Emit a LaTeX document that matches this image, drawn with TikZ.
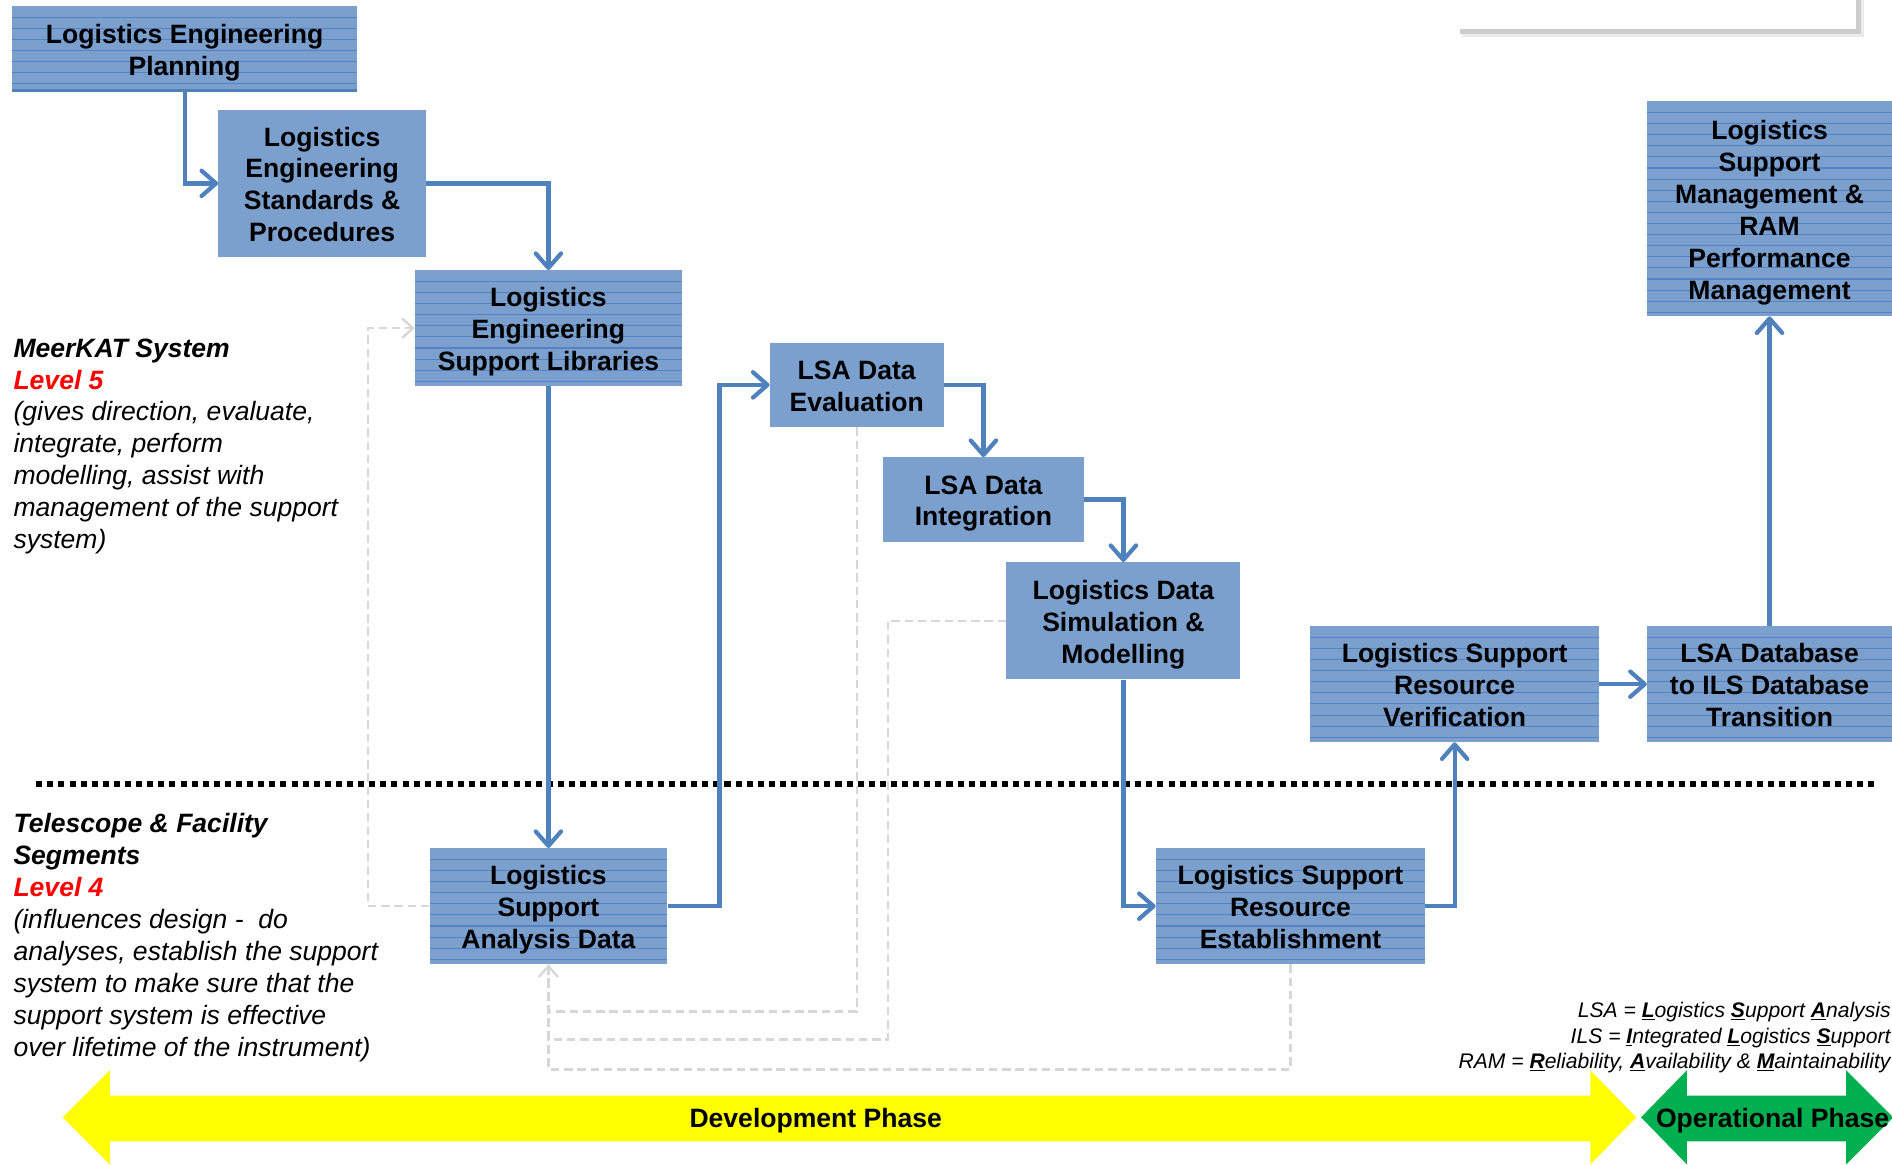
\documentclass[tikz,border=0pt]{standalone}
\usepackage{fontspec}
\setmainfont{Liberation Sans}
\usetikzlibrary{arrows.meta,calc}
\definecolor{boxfill}{RGB}{123,160,206}
\definecolor{stripecol}{RGB}{84,130,194}
\definecolor{flowblue}{RGB}{79,129,189}
\definecolor{fbgray}{RGB}{215,215,215}
\definecolor{phgreen}{RGB}{0,176,80}
\definecolor{phyellow}{RGB}{255,255,0}
\definecolor{lvred}{RGB}{255,0,0}
\newcommand\ulb[1]{\underline{\textbf{#1}}}
\newcommand\tstrut{\rule{0pt}{22pt}}
\tikzset{
  blk/.style={rectangle, fill=boxfill, inner sep=0pt, align=center,
    font=\fontsize{22}{26.5}\selectfont\bfseries,
    execute at end node={\rule[-4.5pt]{0pt}{0pt}}},
  striped/.style={path picture={
    \foreach \k in {1,...,24}{
      \draw[stripecol, line width=0.9pt]
        ([yshift=-\k*9.2pt]path picture bounding box.north west) --
        ([yshift=-\k*9.2pt]path picture bounding box.north east);}}},
  flow/.style={draw=flowblue, line width=3.5pt,
    -{Straight Barb[length=12pt,width=21pt,round]}},
  fb/.style={draw=fbgray, line width=2pt, dash pattern=on 7pt off 4pt,
    -{Straight Barb[length=9pt,width=16pt]}},
  fbn/.style={draw=fbgray, line width=2pt, dash pattern=on 7pt off 4pt},
  lefttext/.style={align=left, inner sep=0pt, anchor=west,
    font=\fontsize{22}{26.5}\selectfont\itshape},
  legend/.style={align=right, inner sep=0pt, anchor=east,
    font=\fontsize{17.5}{21.3}\selectfont\itshape},
  phase/.style={inner sep=0pt, font=\fontsize{22}{26}\selectfont\bfseries},
  dotline/.style={line width=5pt, dash pattern=on 5pt off 4.2pt, black},
}
\begin{document}
\begin{tikzpicture}[x=1pt,y=-1pt]
\useasboundingbox (0,0) rectangle (1568,965);

% top-right partially visible white box with shadow
\fill[black!8] (1212,-6) rectangle (1545,31);
\fill[black!20] (1210,-6) rectangle (1542,28);
\fill[white] (1205,-6) rectangle (1538,24);

% dotted separator
\coordinate (dl) at (30,650);
\coordinate (dr) at (1555,650);
\draw[dotline] (dl) -- (dr);

% boxes
\node[blk,striped,minimum width=286pt,minimum height=71pt] (plan) at (153,40.5) {\tstrut Logistics Engineering\\Planning};
\draw[flowblue, line width=2.5pt] ([yshift=1.25pt]plan.south west) -- ([yshift=1.25pt]plan.south east);
\node[blk,minimum width=172pt,minimum height=122pt] (std) at (267,152) {\tstrut Logistics\\Engineering\\Standards \&\\Procedures};
\node[blk,striped,minimum width=221pt,minimum height=96pt] (lib) at (454.5,272) {\tstrut Logistics\\Engineering\\Support Libraries};
\node[blk,minimum width=144pt,minimum height=70pt] (eval) at (710,319) {\tstrut LSA Data\\Evaluation};
\node[blk,minimum width=166pt,minimum height=70pt] (integ) at (815,414) {\tstrut LSA Data\\Integration};
\node[blk,minimum width=194pt,minimum height=97pt] (sim) at (931,514.5) {\tstrut Logistics Data\\Simulation \&\\Modelling};
\node[blk,striped,minimum width=239pt,minimum height=96pt] (verif) at (1205.5,567) {\tstrut Logistics Support\\Resource\\Verification};
\node[blk,striped,minimum width=203pt,minimum height=96pt] (trans) at (1466.5,567) {\tstrut LSA Database\\to ILS Database\\Transition};
\node[blk,striped,minimum width=203pt,minimum height=178pt] (mgmt) at (1466.5,173) {\tstrut Logistics\\Support\\Management \&\\RAM\\Performance\\Management};
\node[blk,striped,minimum width=197pt,minimum height=96pt] (lsad) at (454.5,751) {\tstrut Logistics\\Support\\Analysis Data};
\node[blk,striped,minimum width=223pt,minimum height=96pt] (estab) at (1069.5,751) {\tstrut Logistics Support\\Resource\\Establishment};

% feedback (dashed grey)
\draw[fb] (lsad.west) -- ++(-51,0) |- (lib.west);
\draw[fbn] (eval.south) -- ++(0,484) -| (lsad.south);
\draw[fbn] (sim.west) -- ++(-98,0) -- ++(0,347) -| (lsad.south);
\draw[fb] (estab.south) -- ++(0,87) -| (lsad.south);

% main flow (blue)
\draw[flow] (plan.south) |- (std.west);
\draw[flow] (std.east) -| (lib.north);
\draw[flow] (lib.south) -- (lsad.north);
\draw[flow] (lsad.east) -- ++(43,0) |- (eval.west);
\draw[flow] (eval.east) -| (integ.north);
\draw[flow] (integ.east) -| (sim.north);
\draw[flow] (sim.south) |- (estab.west);
\draw[flow] (estab.east) -| (verif.south);
\draw[flow] (verif.east) -- (trans.west);
\draw[flow] (trans.north) -- (mgmt.south);

% left descriptions
\node[lefttext] (lv5) at (11,370) {\textbf{MeerKAT System}\\\textcolor{lvred}{\textbf{Level 5}}\\(gives direction, evaluate,\\integrate, perform\\modelling, assist with\\management of the support\\system)};
\node[lefttext] (lv4) at (11,777) {\textbf{Telescope \& Facility}\\\textbf{Segments}\\\textcolor{lvred}{\textbf{Level 4}}\\(influences design -\ \ do\\analyses, establish the support\\system to make sure that the\\support system is effective\\over lifetime of the instrument)};

% legend
\node[legend] (leg) at (1567,860) {LSA = \ulb{L}ogistics \ulb{S}upport \ulb{A}nalysis\\ILS = \ulb{I}ntegrated \ulb{L}ogistics \ulb{S}upport\\RAM = \ulb{R}eliability, \ulb{A}vailability \& \ulb{M}aintainability};

% phase arrows
\fill[phyellow] (52,926) -- (91,887) -- (91,908) -- (1318,908) -- (1318,887) -- (1356,926) -- (1318,965) -- (1318,946) -- (91,946) -- (91,965) -- cycle;
\fill[phgreen] (1360,926) -- (1398,887) -- (1398,908) -- (1530,908) -- (1530,887) -- (1569,926) -- (1530,965) -- (1530,946) -- (1398,946) -- (1398,965) -- cycle;
\node[phase] (dev) at (676,929) {Development Phase};
\node[phase] (ops) at (1469,929) {Operational Phase};
\end{tikzpicture}
\end{document}
